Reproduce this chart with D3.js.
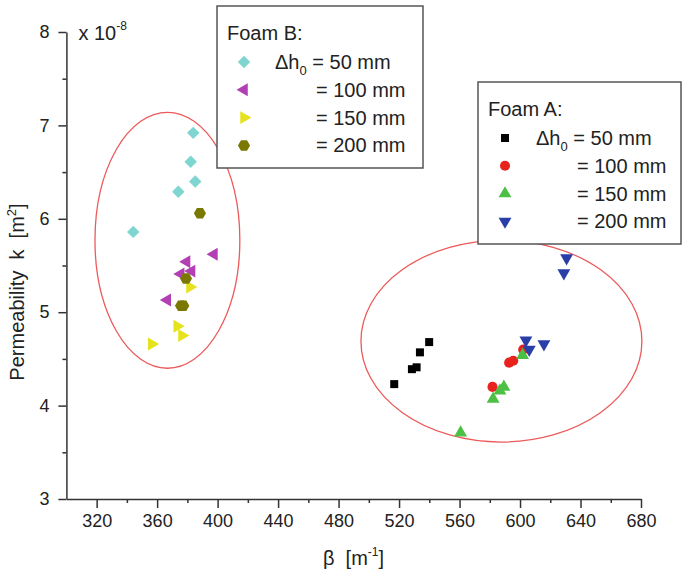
<!DOCTYPE html>
<html>
<head>
<meta charset="utf-8">
<script src="https://cdn.jsdelivr.net/npm/d3@7"></script>
<style>
    body { margin: 0; background: #fff; }
    text { font-family: "Liberation Sans", Arial, sans-serif; fill: #222; }
</style>
</head>
<body>
<div id="chart"></div>
<script>
// data: [beta (1/m), k (x 1e-8 m^2)]
const foamB50 = [[383.9, 6.92], [382.2, 6.61], [385.2, 6.40], [374.0, 6.29], [344.2, 5.86]];
const foamB100 = [[397.6, 5.62], [379.5, 5.54], [382.8, 5.44], [375.6, 5.41], [366.7, 5.13]];
const foamB150 = [[381.7, 5.27], [373.3, 4.85], [376.4, 4.75], [356.4, 4.66]];
const foamB200 = [[388.3, 6.06], [379.1, 5.36], [377.3, 5.07], [375.8, 5.07]];

const foamA50 = [[539.9, 4.68], [533.8, 4.57], [531.6, 4.41], [528.5, 4.39], [516.8, 4.23]];
const foamA100 = [[602.1, 4.60], [592.8, 4.46], [595.5, 4.48], [581.8, 4.20]];
const foamA150 = [[601.7, 4.54], [589.3, 4.20], [586.7, 4.16], [582.2, 4.07], [560.7, 3.71]];
const foamA200 = [[630.8, 5.58], [629.0, 5.42], [603.9, 4.70], [606.1, 4.60], [615.8, 4.66]];

const xTicks = [320, 360, 400, 440, 480, 520, 560, 600, 640, 680];
const xMinorTicks = [340, 380, 420, 460, 500, 540, 580, 620, 660];
const yTicks = [3, 4, 5, 6, 7, 8];
const yMinorTicks = [3.5, 4.5, 5.5, 6.5, 7.5];

const legendLabels = ['= 50 mm', '= 100 mm', '= 150 mm', '= 200 mm'];

// ellipses drawn round the two groups: [cx, cy, rx, ry] in data units
const groupEllipses = [[366.8, 5.77, 47.9, 1.37], [587.7, 4.69, 92.9, 1.08]];

const margin = { top: 32, right: 41, bottom: 74, left: 66.4 },
    width = 682 - margin.left - margin.right,
    height = 573 - margin.top - margin.bottom;

const svg = d3.select('#chart')
    .append('svg')
        .attr('width', 682)
        .attr('height', 573);

const g = svg.append('g')
    .attr('transform', `translate(${margin.left}, ${margin.top})`);

const x = d3.scaleLinear().domain([300, 680]).range([0, width]);
const y = d3.scaleLinear().domain([3, 8]).range([height, 0]);

// axes
const axisColor = '#333';

function styleAxis(sel) {
    sel.attr('font-size', 18).attr('font-family', null);
    sel.selectAll('path, line').attr('stroke', axisColor).attr('stroke-width', 1.5);
    sel.selectAll('text').attr('fill', '#222');
}

g.append('g')
    .attr('transform', `translate(0, ${height})`)
    .call(d3.axisBottom(x).tickValues(xTicks).tickSize(9).tickSizeOuter(0).tickPadding(6))
    .call(styleAxis);

g.append('g')
    .attr('transform', `translate(0, ${height})`)
    .call(d3.axisBottom(x).tickValues(xMinorTicks).tickSize(4).tickFormat(''))
    .call(styleAxis)
    .call(a => a.select('.domain').remove());

g.append('g')
    .call(d3.axisLeft(y).tickValues(yTicks).tickFormat(d3.format('d'))
        .tickSize(8).tickSizeOuter(0).tickPadding(9))
    .call(styleAxis);

g.append('g')
    .call(d3.axisLeft(y).tickValues(yMinorTicks).tickSize(4).tickFormat(''))
    .call(styleAxis)
    .call(a => a.select('.domain').remove());

// exponent label
const expo = g.append('text')
    .attr('x', 12)
    .attr('y', 8)
    .attr('font-size', 20);
expo.append('tspan').text('x 10');
expo.append('tspan').text('-8').attr('font-size', 12).attr('dy', -10);

// axis titles
const yTitle = svg.append('text')
    .attr('transform', 'translate(24, 292) rotate(-90)')
    .attr('text-anchor', 'middle')
    .attr('font-size', 20)
    .style('white-space', 'pre');
yTitle.append('tspan').text('Permeability  k  [m');
yTitle.append('tspan').text('2').attr('font-size', 13).attr('dy', -8);
yTitle.append('tspan').text(']').attr('dy', 8);

const xTitle = svg.append('text')
    .attr('x', 323)
    .attr('y', 565)
    .attr('font-size', 20)
    .style('white-space', 'pre');
xTitle.append('tspan').text('β  [m');
xTitle.append('tspan').text('-1').attr('font-size', 12).attr('dy', -9);
xTitle.append('tspan').text(']').attr('dy', 9);

// ellipses
g.selectAll('ellipse')
    .data(groupEllipses)
    .enter()
    .append('ellipse')
        .attr('cx', d => x(d[0]))
        .attr('cy', d => y(d[1]))
        .attr('rx', d => x(d[0] + d[2]) - x(d[0]))
        .attr('ry', d => y(d[1] - d[3]) - y(d[1]))
        .attr('fill', 'none')
        .attr('stroke', '#ec5a5a')
        .attr('stroke-width', 1.3);

// marker shapes
const hexagon = {
    draw(ctx, size) {
        const r = Math.sqrt(size / (1.5 * Math.sqrt(3)));
        for (let i = 0; i < 6; i++) {
            const a = Math.PI / 3 * i;
            if (i === 0) ctx.moveTo(r * Math.cos(a), r * Math.sin(a));
            else ctx.lineTo(r * Math.cos(a), r * Math.sin(a));
        }
        ctx.closePath();
    }
};

const series = [
    { data: foamB50, type: d3.symbolSquare, size: 78, rotate: 45, color: '#7fd6d0' },
    { data: foamB100, type: d3.symbolTriangle, size: 72, rotate: -90, color: '#b23fb4' },
    { data: foamB150, type: d3.symbolTriangle, size: 72, rotate: 90, color: '#e6e21e' },
    { data: foamB200, type: hexagon, size: 95, rotate: 0, color: '#7a7800' },
    { data: foamA50, type: d3.symbolSquare, size: 64, rotate: 0, color: '#000' },
    { data: foamA100, type: d3.symbolCircle, size: 80, rotate: 0, color: '#e8231e' },
    { data: foamA150, type: d3.symbolTriangle, size: 72, rotate: 0, color: '#4cc044' },
    { data: foamA200, type: d3.symbolTriangle, size: 72, rotate: 180, color: '#2a3ea8' }
];

series.forEach(function(s) {
    g.append('g')
        .selectAll('path')
        .data(s.data)
        .enter()
        .append('path')
            .attr('d', d3.symbol().type(s.type).size(s.size))
            .attr('transform', d => `translate(${x(d[0])}, ${y(d[1])}) rotate(${s.rotate})`)
            .attr('fill', s.color);
});

// legends
function drawLegend(box, title, items) {
    const lg = svg.append('g');
    lg.append('rect')
        .attr('x', box.x)
        .attr('y', box.y)
        .attr('width', box.w)
        .attr('height', box.h)
        .attr('fill', '#fff')
        .attr('stroke', '#555')
        .attr('stroke-width', 1.5);
    lg.append('text')
        .attr('x', box.x + 10)
        .attr('y', box.y + 34)
        .attr('font-size', 20)
        .text(title);
    items.forEach(function(s, i) {
        const cy = box.y + 56 + i * 27.8;
        lg.append('path')
            .attr('d', d3.symbol().type(s.type).size(s.size))
            .attr('transform', `translate(${box.x + 27}, ${cy}) rotate(${s.rotate})`)
            .attr('fill', s.color);
        if (i === 0) {
            const t = lg.append('text')
                .attr('x', box.x + 58)
                .attr('y', cy + 7)
                .attr('font-size', 20);
            t.append('tspan').text('Δh');
            t.append('tspan').text('0').attr('font-size', 13).attr('dy', 6);
            t.append('tspan').text(' ' + legendLabels[i]).attr('dy', -6);
        } else {
            lg.append('text')
                .attr('x', box.x + 99)
                .attr('y', cy + 7)
                .attr('font-size', 20)
                .text(legendLabels[i]);
        }
    });
}

drawLegend({ x: 217, y: 6, w: 206, h: 162 }, 'Foam B:', series.slice(0, 4));
drawLegend({ x: 478, y: 82, w: 203, h: 162 }, 'Foam A:', series.slice(4));
</script>
</body>
</html>
